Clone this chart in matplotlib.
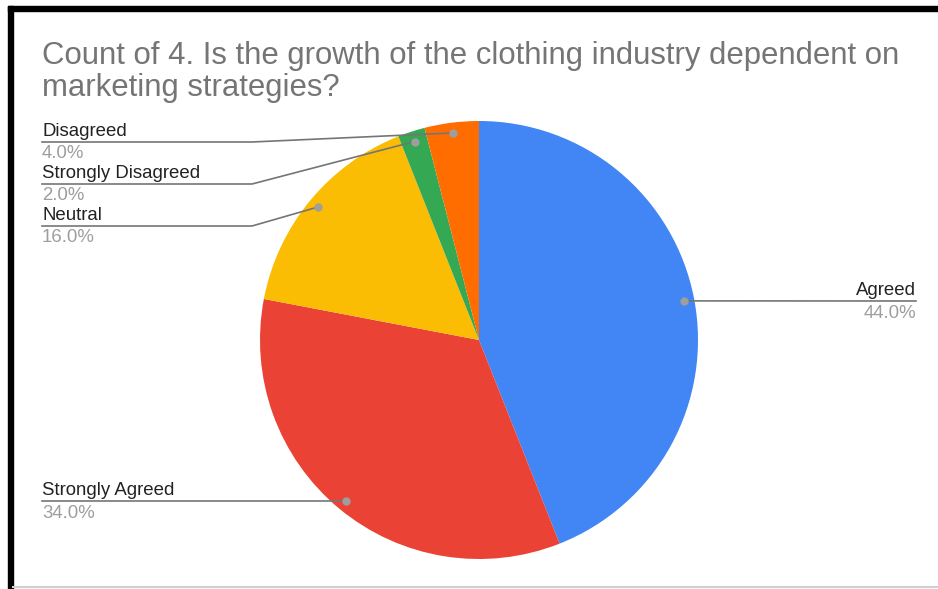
import numpy as np
import matplotlib.pyplot as plt
from matplotlib.patches import Rectangle

plt.rcParams['font.family'] = ['Liberation Sans', 'DejaVu Sans']

labels = ['Agreed', 'Strongly Agreed', 'Neutral', 'Strongly Disagreed', 'Disagreed']
shares = [44.0, 34.0, 16.0, 2.0, 4.0]
colors = ['#4285F4', '#EA4335', '#FBBC04', '#34A853', '#FF6D01']

W, H = 938, 589
fig = plt.figure(figsize=(W / 100, H / 100), dpi=100)
ax = fig.add_axes([0, 0, 1, 1])

# pie drawn in pixel coords (y flipped, so counterclock=True walks clockwise on screen)
cx, cy, r = 479, 340, 219
wedges, _ = ax.pie(shares, colors=colors, startangle=-90, counterclock=True,
                   center=(cx, cy), radius=r, frame=True,
                   wedgeprops=dict(linewidth=0))
ax.set_xlim(0, W)
ax.set_ylim(H, 0)
ax.set_aspect('equal')
ax.axis('off')

# where each leader line ends on the left / right side
label_ends = {
    'Agreed': (916, 301, 'right'),
    'Strongly Agreed': (42, 501, 'left'),
    'Neutral': (42, 226, 'left'),
    'Strongly Disagreed': (42, 184, 'left'),
    'Disagreed': (42, 142, 'left'),
}
line_col = '#757575'
for w, name, val in zip(wedges, labels, shares):
    mid = np.deg2rad((w.theta1 + w.theta2) / 2)
    dx = cx + 0.953 * r * np.cos(mid)
    dy = cy + 0.953 * r * np.sin(mid)
    lx, ly, side = label_ends[name]
    if side == 'left':
        knee = lx + 210 if name != 'Strongly Agreed' else dx
        ax.plot([lx, knee, dx], [ly, ly, dy], color=line_col, lw=1.2, zorder=3)
    else:
        ax.plot([dx, lx], [dy, ly], color=line_col, lw=1.2, zorder=3)
    ax.plot(dx, dy, 'o', color='#9e9e9e', ms=5, zorder=4)
    ax.text(lx, ly - 2, name, ha=side, va='bottom', fontsize=13.4, color='#222222')
    ax.text(lx, ly + 3.5, f'{val:.1f}%', ha=side, va='top', fontsize=13.4, color='#9e9e9e')

ax.text(42, 64, 'Count of 4. Is the growth of the clothing industry dependent on',
        fontsize=22.4, color='#757575', va='baseline')
ax.text(42, 96, 'marketing strategies?', fontsize=22.4, color='#757575', va='baseline')

# frame around the chart
ax.add_patch(Rectangle((8, 6), W - 8, 5, color='black', zorder=5, clip_on=False))
ax.add_patch(Rectangle((8, 6), 5, H - 6, color='black', zorder=5, clip_on=False))
ax.plot([13, W], [587, 587], color='#d0d0d0', lw=1.5, zorder=5)

fig.savefig('out.png', dpi=100)
